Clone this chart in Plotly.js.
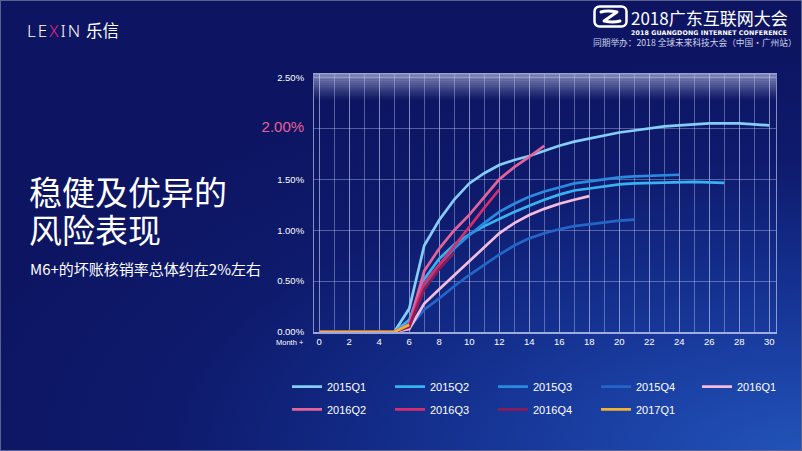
<!DOCTYPE html>
<html><head><meta charset="utf-8">
<script src="https://cdn.plot.ly/plotly-3.0.1.min.js"></script>
<style>
html,body{margin:0;padding:0;}
body{width:802px;height:451px;overflow:hidden;position:relative;
 background:radial-gradient(ellipse 110% 90% at 100% 100%, #2253b8 0%, #1a3ea2 25%, #122a86 50%, #0e1a6c 72%, #0d1562 100%);
 font-family:"Noto Sans CJK SC","Noto Sans",sans-serif;}
#frame{position:absolute;left:0;top:0;width:800px;height:449px;border:1px solid #5c6290;pointer-events:none;}
#chart{position:absolute;left:0;top:0;width:802px;height:451px;}
.t{position:absolute;color:#fff;white-space:nowrap;line-height:1;}
</style></head>
<body>
<div id="chart"></div>
<div id="frame"></div>
<div class="t" style="left:27px;top:22px;font-family:'Noto Sans',sans-serif;font-size:17px;font-weight:300;letter-spacing:2px;">LE<span style="color:#e0287a">X</span>IN</div>
<div class="t" style="left:86px;top:22px;font-size:16.5px;">乐信</div>
<svg style="position:absolute;left:593px;top:5px" width="35" height="23" viewBox="0 0 35 23">
 <rect x="1.5" y="1.5" width="32" height="20" rx="5" fill="none" stroke="#fff" stroke-width="2.5"/>
 <path d="M8 7 Q14 5 24 7 L11 16 Q20 18 27 16" fill="none" stroke="#fff" stroke-width="3" stroke-linejoin="round" stroke-linecap="round"/>
</svg>
<div class="t" style="left:631px;top:9px;font-size:17px;">2018广东互联网大会</div>
<div class="t" style="left:631px;top:30px;font-family:'DejaVu Sans',sans-serif;font-size:6.3px;font-weight:bold;letter-spacing:0.1px;">2018 GUANGDONG INTERNET CONFERENCE</div>
<div class="t" style="left:593px;top:39px;font-size:8.7px;color:#cfd3ea;">同期举办：2018 全球未来科技大会（中国·广州站）</div>
<div class="t" style="left:29px;top:172px;font-size:33px;line-height:38px;">稳健及优异的<br>风险表现</div>
<div class="t" style="left:30px;top:261px;font-size:15px;">M6+的坏账核销率总体约在2%左右</div>
<script>
// data (values in %, index = month)
var seriesNames = ['2015Q1','2015Q2','2015Q3','2015Q4','2016Q1','2016Q2','2016Q3','2016Q4','2017Q1'];
var s2015Q1 = [0,0,0,0,0,0,0.23,0.85,1.10,1.30,1.46,1.56,1.64,1.69,1.73,1.78,1.83,1.87,1.90,1.93,1.96,1.98,2.00,2.02,2.03,2.04,2.05,2.05,2.05,2.04,2.03];
var s2015Q2 = [0,0,0,0,0,0,0.12,0.52,0.72,0.86,0.96,1.04,1.11,1.18,1.24,1.30,1.35,1.39,1.41,1.43,1.45,1.46,1.465,1.47,1.475,1.475,1.47,1.465];
var s2015Q3 = [0,0,0,0,0,0,0.06,0.45,0.66,0.82,0.95,1.07,1.18,1.26,1.33,1.38,1.42,1.46,1.48,1.50,1.52,1.53,1.535,1.54,1.545];
var s2015Q4 = [0,0,0,0,0,0,0.04,0.22,0.33,0.45,0.56,0.66,0.76,0.85,0.92,0.97,1.01,1.04,1.06,1.08,1.095,1.105];
var s2016Q1 = [0,0,0,0,0,0,0.03,0.28,0.42,0.56,0.70,0.84,0.97,1.07,1.15,1.21,1.26,1.30,1.335];
var s2016Q2 = [0,0,0,0,0,0,0.08,0.60,0.82,1.00,1.15,1.33,1.50,1.62,1.72,1.83];
var s2016Q3 = [0,0,0,0,0,0,0.06,0.48,0.66,0.84,1.03,1.22,1.40];
var s2016Q4 = [0,0,0,0,0,0,0.05,0.42,0.62,0.78];
var s2017Q1 = [0,0,0,0,0,0,0.07];
var seriesValues = [s2015Q1,s2015Q2,s2015Q3,s2015Q4,s2016Q1,s2016Q2,s2016Q3,s2016Q4,s2017Q1];
var seriesColors = ['#86cdf6','#38b2f0','#2b8ae0','#2565c8','#f3bddf','#e3639d','#d42e6c','#8c1c55','#f2b233'];
var seriesLegend = ['legend','legend','legend','legend','legend3','legend2','legend2','legend2','legend2'];
var yTickVals = [0,0.5,1,1.5,2,2.5];
var yTickText = ['0.00%','0.50%','1.00%','1.50%','<span style="font-size:15px;color:#e8609a">2.00%</span>','2.50%'];
var xTickVals = [0,2,4,6,8,10,12,14,16,18,20,22,24,26,28,30];
var xTickText = xTickVals.map(String);

var traces = seriesValues.map(function(vals,i){
  return {type:'scatter', mode:'lines', name:seriesNames[i],
    x: vals.map(function(_,m){return m;}), y: vals,
    line:{color:seriesColors[i], width:2.7},
    legend: seriesLegend[i], hoverinfo:'skip'};
});

var shapes = [];
var nBand = 14, bandPx = 26, plotH = 258;
for (var i=0;i<nBand;i++){
  var a = 0.6*Math.pow(1-i/nBand,1.2);
  shapes.push({type:'rect', xref:'paper', yref:'paper', x0:0, x1:1,
    y1:1-i*(bandPx/nBand)/plotH, y0:1-(i+1)*(bandPx/nBand)/plotH,
    fillcolor:'rgba(215,220,245,'+a.toFixed(3)+')', line:{width:0}, layer:'below'});
}

var legendBase = {orientation:'h', xref:'container', yref:'container', xanchor:'left', yanchor:'middle',
  entrywidth:58, entrywidthmode:'pixels', bgcolor:'rgba(0,0,0,0)', borderwidth:0,
  font:{family:'Liberation Sans, Arial, sans-serif', size:11, color:'#ffffff'}, traceorder:'normal'};
var leg1 = Object.assign({}, legendBase, {x:287/802, y:1-386.7/451});
var leg3 = Object.assign({}, legendBase, {x:(287+4*102.5)/802, y:1-386.7/451});
var leg2 = Object.assign({}, legendBase, {x:287/802, y:1-409.3/451});

var layout = {
  width:802, height:451,
  paper_bgcolor:'rgba(0,0,0,0)', plot_bgcolor:'rgba(0,0,0,0)',
  margin:{l:314, r:26, t:74, b:119, pad:0},
  font:{family:'Liberation Sans, Arial, sans-serif', color:'#ffffff'},
  showlegend:true,
  legend:leg1, legend2:leg2, legend3:leg3,
  xaxis:{range:[-0.35,30.45], tickvals:xTickVals, ticktext:xTickText, showgrid:true,
    gridcolor:'rgba(200,210,255,0.38)', gridwidth:1, zeroline:false,
    minor:{dtick:1, tick0:0, showgrid:true, gridcolor:'rgba(200,210,255,0.38)', gridwidth:1},
    showline:true, linecolor:'rgba(215,222,255,0.7)', linewidth:1.5, mirror:true,
    ticks:'', tickfont:{size:9.5, color:'#ffffff'}, ticklabelstandoff:0, fixedrange:true},
  yaxis:{range:[0,2.535], tickvals:yTickVals, ticktext:yTickText, showgrid:true,
    gridcolor:'rgba(200,210,255,0.38)', gridwidth:1, zeroline:false,
    showline:true, linecolor:'rgba(215,222,255,0.6)', linewidth:1, mirror:true,
    ticks:'', tickfont:{size:9.5, color:'#ffffff'}, ticklabelstandoff:7, fixedrange:true},
  shapes:shapes,
  annotations:[{text:'Month +', xref:'paper', yref:'paper', x:-0.018, y:0, yshift:-10,
    xanchor:'right', yanchor:'middle', showarrow:false, font:{size:7.5, color:'#ffffff'}}]
};
Plotly.newPlot('chart', traces, layout, {displayModeBar:false, staticPlot:true});
</script>
</body></html>
